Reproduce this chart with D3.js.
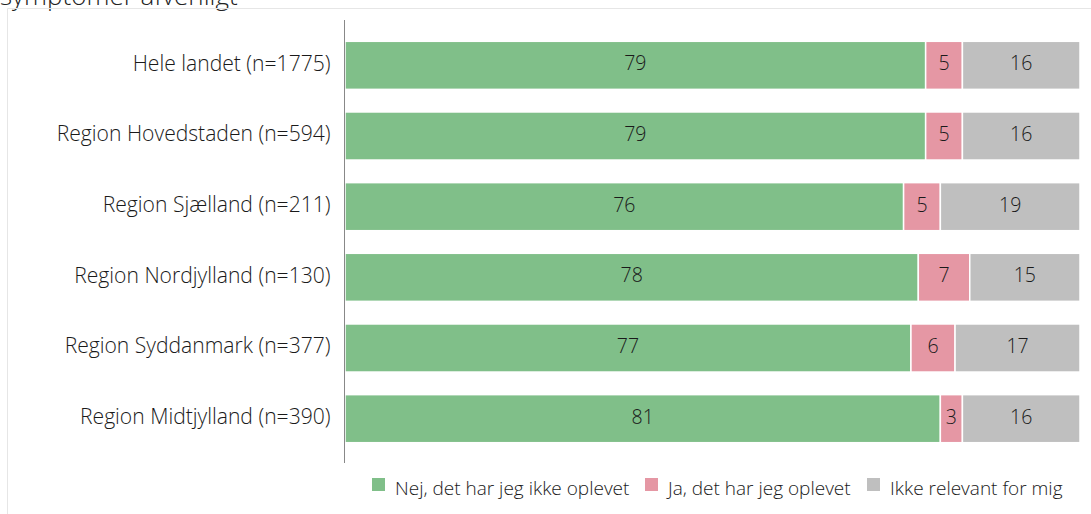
<!DOCTYPE html>
<html>
<head>
<meta charset="utf-8">
<script src="https://cdn.jsdelivr.net/npm/d3@7"></script>
<style>
  body { margin: 0; background: #fff; }
  svg { display: block; font-family: "Open Sans", "Noto Sans", sans-serif; }
</style>
</head>
<body>
<script>
// data
const regions = [
    "Hele landet (n=1775)",
    "Region Hovedstaden (n=594)",
    "Region Sjælland (n=211)",
    "Region Nordjylland (n=130)",
    "Region Syddanmark (n=377)",
    "Region Midtjylland (n=390)"
];
const seriesNames = ["Nej, det har jeg ikke oplevet", "Ja, det har jeg oplevet", "Ikke relevant for mig"];
const nej = [79, 79, 76, 78, 77, 81];
const ja = [5, 5, 5, 7, 6, 3];
const ikke = [16, 16, 19, 15, 17, 16];
const colors = ["#80bf89", "#e597a4", "#bfbfbf"];

const width = 1091, height = 514;
const svg = d3.select("body").append("svg")
    .attr("width", width)
    .attr("height", height);

// title (cut off at top, as in the source image)
svg.append("text")
    .attr("x", 0)
    .attr("y", 5)
    .style("font-size", "26px")
    .style("font-weight", 300)
    .attr("fill", "#222")
    .text("symptomer afvenligt");

// chart frame
svg.append("path")
    .attr("d", "M7.5,514 V8.5 H1091")
    .attr("fill", "none")
    .attr("stroke", "#e6e6e6");

const x = d3.scaleLinear().domain([0, 100]).range([345, 1080]);
const y = d3.scaleBand().domain(regions).range([30, 454]).paddingInner(0.32).paddingOuter(0.16);

const table = regions.map((r, i) => ({ region: r, v: [nej[i], ja[i], ikke[i]] }));

const rows = svg.selectAll(".row")
    .data(table)
    .enter()
    .append("g")
    .attr("class", "row");

rows.each(function (d) {
    let cum = 0;
    const g = d3.select(this);
    d.v.forEach((val, k) => {
        const x0 = x(cum), x1 = x(cum + val);
        g.append("rect")
            .attr("x", x0)
            .attr("y", y(d.region))
            .attr("width", x1 - x0)
            .attr("height", y.bandwidth())
            .attr("fill", colors[k])
            .attr("stroke", "#fff")
            .attr("stroke-width", 1.5);
        g.append("text")
            .attr("x", (x0 + x1) / 2)
            .attr("y", y(d.region) + y.bandwidth() / 2 + 5)
            .attr("text-anchor", "middle")
            .style("font-size", "19.5px")
            .style("font-weight", 300)
            .attr("fill", "#1a1a1a")
            .text(val);
        cum += val;
    });
});

// y axis
const yAxis = svg.append("g")
    .attr("transform", "translate(344.5,0)")
    .call(d3.axisLeft(y).tickSize(0).tickPadding(14));
yAxis.select(".domain").remove();
yAxis.selectAll("text")
    .style("font-size", "21.1px")
    .style("font-weight", 300)
    .style("font-family", "'Open Sans', 'Noto Sans', sans-serif")
    .attr("dy", "0.25em")
    .attr("fill", "#1a1a1a");
svg.append("line")
    .attr("x1", 344.5).attr("x2", 344.5)
    .attr("y1", 20).attr("y2", 463)
    .attr("stroke", "#888");

// legend
const legendX = [372, 645, 867];
const legend = svg.selectAll(".legend")
    .data(seriesNames)
    .enter()
    .append("g")
    .attr("class", "legend")
    .attr("transform", (d, i) => `translate(${legendX[i]},478)`);
legend.append("rect")
    .attr("width", 13)
    .attr("height", 13)
    .attr("fill", (d, i) => colors[i]);
legend.append("text")
    .attr("x", 23)
    .attr("y", 17)
    .style("font-size", "19px")
    .style("font-weight", 300)
    .attr("fill", "#1a1a1a")
    .text(d => d);
</script>
</body>
</html>
